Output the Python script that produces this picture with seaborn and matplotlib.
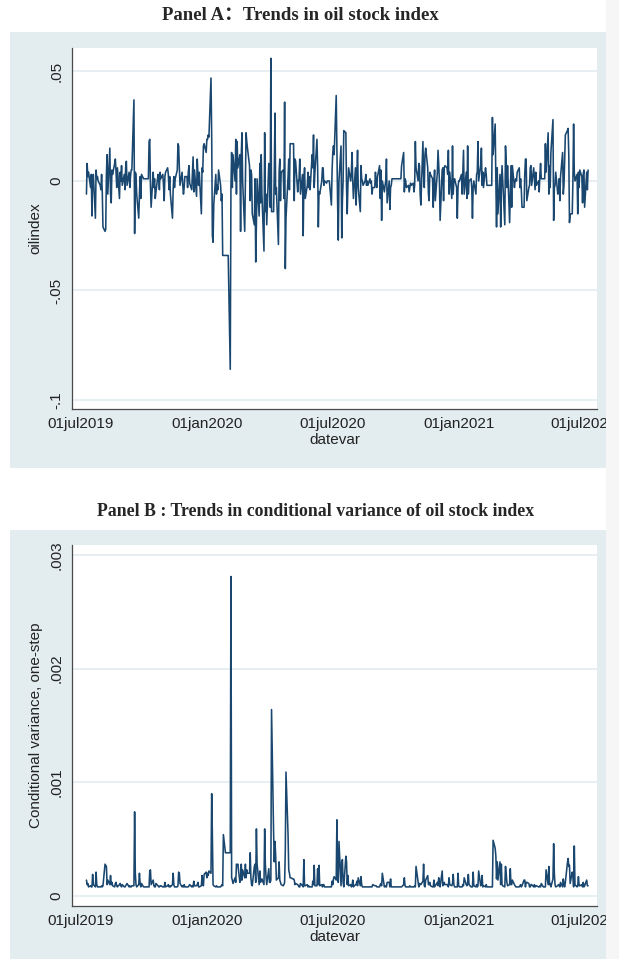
import numpy as np
import pandas as pd
import matplotlib
matplotlib.use("Agg")
import matplotlib.pyplot as plt
from matplotlib.patches import Rectangle
import seaborn as sns

# ---------------- data (business days starting at start_date) ----------------
start_date = "2019-07-09"

oilindex = [
    -.006, .008, .002, .004, -.003, .003, -.016, .002, .003, -.017, .005, .001, .002, .000, -.002, -.004, .003,  # Jul19
    -.005, -.021, -.023, -.022, .003, .012, -.006, .015, -.006, -.010, .005, .003, .008, .010, .004, -.003, .006, -.008, .004, .000, .007, -.002,  # Aug19
    .003, -.004, .006, .009, -.002, .004, -.003, .002, .005, .005, .037, -.024, .004, .003, -.006, -.017, -.006, .002, -.008, .003, .001,  # Sep19
    .001, .001, .001, .001, .001, .018, .019, -.002, -.012, .004, -.003, .001, -.008, -.005, .003, .002, -.004, .004, .001, .003, -.002, -.009, .002,  # Oct19
    .004, .006, .003, -.004, .002, -.006, -.017, -.004, .002, -.003, .001, .005, .017, .016, .006, -.002, .004, -.002, -.006, -.003, .002,  # Nov19
    .002, -.003, .004, .007, -.001, -.004, .003, .011, -.005, .005, -.007, .010, .003, -.002, .004, -.015, .006, .004, .016, .017, .013, .019,  # Dec19
    .019, .021, .020, .047, .021, -.025, -.028, -.011, .003, -.006, -.002, -.004, .005, -.002, -.009, -.006, -.034, -.034, -.034, -.034, -.034, -.034, -.034,  # Jan20
    -.086, -.003, .013, -.003, .012, .000, .019, -.006, .018, .006, .012, -.023, .012, .022, .000, -.023, -.002, .022, .018, .015,  # Feb20
    .007, -.009, .005, .003, -.015, -.020, .001, -.037, -.020, .001, -.016, .008, -.010, .012, -.006, -.032, .022, -.014, -.006, -.020, .008, .003,  # Mar20
    -.012, .056, -.014, -.014, .004, .031, -.006, -.003, -.029, .004, .010, -.009, .004, .005, -.008, .036, -.040, -.017, .002, .010, -.004, .017,  # Apr20
    .017, .017, .017, -.009, .010, .009, -.005, .000, .001, .010, -.006, .003, -.025, .000, .006, -.008, -.002, .004, -.003, .002, -.004,  # May20
    .012, .006, .021, -.003, .004, .019, .006, -.021, -.005, -.006, .000, .006, .006, -.002, .000, -.001, .000, .000, .000, .000, -.011, .005,  # Jun20
    .013, .016, .012, .039, .013, -.010, -.027, .000, .016, -.026, -.009, .000, .023, .022, -.003, -.015, -.002, .006, .000, .004, .013, .000, -.008,  # Jul20
    .006, -.011, .004, .014, -.003, -.014, .007, .001, .000, -.002, .000, .003, -.002, .000, -.002, .001, -.001, .000, -.006, -.003, -.003,  # Aug20
    .004, -.001, -.003, .002, .007, -.008, .005, -.018, .000, -.005, -.002, .000, .010, -.010, .000, -.013, -.003, -.002, .001, .001, .001, .001,  # Sep20
    .001, .001, .001, .001, .001, .001, .007, .013, -.005, .001, .000, -.003, -.002, -.005, -.003, -.001, -.002, -.001, -.005, -.002, .018, .006,  # Oct20
    .000, .008, .007, -.006, -.011, .018, .003, -.003, .012, .015, .006, -.006, -.009, .004, .003, .001, -.012, .000, .005, -.009, .004,  # Nov20
    .014, .007, .000, -.018, .005, .006, -.009, .006, .007, .006, .003, .014, -.006, .004, -.008, .016, -.006, .000, .001, -.003, -.017, -.003, .000,  # Dec20
    .000, .003, -.006, .004, .014, -.006, .004, -.008, .016, -.006, .000, .001, -.003, -.017, -.003, .000, -.006, .003, .004, .018, .000,  # Jan21
    .007, .015, -.002, .004, -.003, .006, .003, -.002, -.002, -.002, -.002, -.002, -.002, .029, .012, .026, .000, -.021, .006, -.015,  # Feb21
    .003, -.021, -.003, .007, .000, -.020, .016, .009, -.003, .007, -.019, -.005, .007, -.012, .007, -.003, .000, .001, .000, .004, .006, -.003, .001,  # Mar21
    -.004, -.012, -.012, .003, .010, .010, -.009, -.003, -.002, .006, .007, -.002, .006, .001, -.004, .004, -.002, .000, -.005, .003, .008, .001,  # Apr21
    .001, .001, .001, .017, .004, .022, -.006, .007, -.003, .013, .028, -.018, -.003, -.002, .004, -.006, -.005, .001, -.009, .002, .013,  # May21
    -.006, -.002, .010, .021, .023, .024, .012, -.019, -.015, -.015, .000, .026, .004, .000, .003, -.015, .004, -.003, .005, .002, -.010, .003,  # Jun21
    .005, -.012, .004, -.004, .005,  # Jul21
]

condvar = [
    14e-5, 10e-5, 11e-5, 8e-5, 9e-5, 8e-5, 8e-5, 19e-5, 10e-5, 8e-5, 21e-5, 10e-5, 8e-5, 8e-5, 8e-5, 8e-5, 9e-5,  # Jul19
    8e-5, 9e-5, 28e-5, 27e-5, 26e-5, 10e-5, 14e-5, 10e-5, 18e-5, 10e-5, 12e-5, 9e-5, 8e-5, 11e-5, 12e-5, 9e-5, 8e-5, 10e-5, 11e-5, 9e-5, 8e-5, 10e-5,  # Aug19
    8e-5, 8e-5, 9e-5, 10e-5, 11e-5, 8e-5, 9e-5, 8e-5, 8e-5, 9e-5, 9e-5, 74e-5, 20e-5, 10e-5, 8e-5, 10e-5, 20e-5, 11e-5, 8e-5, 11e-5, 8e-5,  # Sep19
    8e-5, 8e-5, 8e-5, 8e-5, 8e-5, 8e-5, 22e-5, 23e-5, 10e-5, 14e-5, 9e-5, 8e-5, 8e-5, 11e-5, 9e-5, 8e-5, 8e-5, 9e-5, 9e-5, 8e-5, 8e-5, 8e-5, 12e-5,  # Oct19
    8e-5, 9e-5, 10e-5, 8e-5, 9e-5, 8e-5, 10e-5, 20e-5, 10e-5, 8e-5, 8e-5, 8e-5, 9e-5, 21e-5, 20e-5, 11e-5, 8e-5, 9e-5, 8e-5, 10e-5, 8e-5,  # Nov19
    8e-5, 8e-5, 8e-5, 9e-5, 10e-5, 8e-5, 9e-5, 8e-5, 13e-5, 9e-5, 9e-5, 10e-5, 12e-5, 8e-5, 8e-5, 9e-5, 18e-5, 10e-5, 9e-5, 19e-5, 21e-5, 16e-5,  # Dec19
    20e-5, 18e-5, 22e-5, 20e-5, 90e-5, 54e-5, 10e-5, 9e-5, 8e-5, 9e-5, 8e-5, 8e-5, 8e-5, 8e-5, 9e-5, 10e-5, 9e-5, 54e-5, 38e-5, 38e-5, 38e-5, 38e-5, 38e-5,  # Jan20
    38e-5, 281e-5, 16e-5, 14e-5, 11e-5, 16e-5, 12e-5, 28e-5, 27e-5, 28e-5, 12e-5, 14e-5, 28e-5, 14e-5, 23e-5, 16e-5, 28e-5, 16e-5, 23e-5, 20e-5,  # Feb20
    20e-5, 38e-5, 16e-5, 10e-5, 9e-5, 26e-5, 28e-5, 12e-5, 59e-5, 28e-5, 10e-5, 22e-5, 12e-5, 14e-5, 15e-5, 10e-5, 59e-5, 28e-5, 17e-5, 10e-5, 24e-5, 12e-5,  # Mar20
    12e-5, 14e-5, 164e-5, 55e-5, 30e-5, 48e-5, 35e-5, 14e-5, 16e-5, 30e-5, 14e-5, 12e-5, 10e-5, 9e-5, 10e-5, 12e-5, 40e-5, 109e-5, 54e-5, 23e-5, 20e-5, 16e-5,  # Apr20
    16e-5, 15e-5, 15e-5, 14e-5, 10e-5, 11e-5, 10e-5, 9e-5, 8e-5, 8e-5, 11e-5, 9e-5, 8e-5, 32e-5, 9e-5, 9e-5, 10e-5, 8e-5, 9e-5, 8e-5, 8e-5,  # May20
    8e-5, 13e-5, 10e-5, 27e-5, 9e-5, 9e-5, 24e-5, 10e-5, 27e-5, 9e-5, 10e-5, 8e-5, 10e-5, 10e-5, 8e-5, 8e-5, 8e-5, 8e-5, 8e-5, 8e-5, 8e-5, 13e-5,  # Jun20
    10e-5, 15e-5, 17e-5, 14e-5, 67e-5, 15e-5, 12e-5, 48e-5, 9e-5, 30e-5, 32e-5, 12e-5, 8e-5, 35e-5, 30e-5, 10e-5, 18e-5, 9e-5, 10e-5, 8e-5, 9e-5, 14e-5, 8e-5,  # Jul20
    10e-5, 10e-5, 13e-5, 9e-5, 16e-5, 9e-5, 17e-5, 10e-5, 8e-5, 8e-5, 8e-5, 8e-5, 8e-5, 8e-5, 8e-5, 8e-5, 8e-5, 8e-5, 8e-5, 10e-5, 9e-5,  # Aug20
    9e-5, 9e-5, 8e-5, 8e-5, 8e-5, 10e-5, 11e-5, 9e-5, 20e-5, 8e-5, 9e-5, 8e-5, 8e-5, 12e-5, 12e-5, 8e-5, 15e-5, 8e-5, 8e-5, 8e-5, 8e-5, 8e-5,  # Sep20
    8e-5, 8e-5, 8e-5, 8e-5, 8e-5, 8e-5, 8e-5, 10e-5, 16e-5, 9e-5, 8e-5, 8e-5, 8e-5, 8e-5, 9e-5, 8e-5, 8e-5, 8e-5, 8e-5, 9e-5, 8e-5, 26e-5,  # Oct20
    12e-5, 8e-5, 11e-5, 10e-5, 10e-5, 13e-5, 28e-5, 9e-5, 8e-5, 14e-5, 18e-5, 10e-5, 10e-5, 12e-5, 9e-5, 8e-5, 8e-5, 14e-5, 8e-5, 9e-5, 12e-5,  # Nov20
    9e-5, 16e-5, 10e-5, 8e-5, 22e-5, 9e-5, 10e-5, 12e-5, 10e-5, 10e-5, 10e-5, 8e-5, 16e-5, 10e-5, 9e-5, 11e-5, 19e-5, 10e-5, 8e-5, 8e-5, 8e-5, 20e-5, 9e-5,  # Dec20
    8e-5, 8e-5, 8e-5, 10e-5, 9e-5, 16e-5, 10e-5, 9e-5, 11e-5, 19e-5, 10e-5, 8e-5, 8e-5, 8e-5, 21e-5, 9e-5, 8e-5, 10e-5, 8e-5, 9e-5, 22e-5,  # Jan21
    9e-5, 10e-5, 18e-5, 8e-5, 9e-5, 8e-5, 10e-5, 8e-5, 8e-5, 8e-5, 8e-5, 8e-5, 8e-5, 8e-5, 49e-5, 42e-5, 35e-5, 15e-5, 30e-5, 14e-5,  # Feb21
    30e-5, 10e-5, 28e-5, 10e-5, 9e-5, 8e-5, 26e-5, 20e-5, 12e-5, 9e-5, 10e-5, 24e-5, 10e-5, 10e-5, 14e-5, 10e-5, 9e-5, 8e-5, 8e-5, 8e-5, 8e-5, 9e-5, 10e-5,  # Mar21
    8e-5, 9e-5, 14e-5, 14e-5, 8e-5, 12e-5, 12e-5, 11e-5, 8e-5, 8e-5, 10e-5, 10e-5, 8e-5, 10e-5, 8e-5, 9e-5, 9e-5, 8e-5, 8e-5, 9e-5, 8e-5, 11e-5,  # Apr21
    8e-5, 8e-5, 8e-5, 8e-5, 23e-5, 10e-5, 26e-5, 10e-5, 11e-5, 8e-5, 15e-5, 46e-5, 20e-5, 10e-5, 8e-5, 9e-5, 10e-5, 10e-5, 8e-5, 12e-5, 8e-5,  # May21
    15e-5, 10e-5, 8e-5, 12e-5, 29e-5, 33e-5, 26e-5, 27e-5, 11e-5, 21e-5, 18e-5, 8e-5, 44e-5, 10e-5, 8e-5, 9e-5, 17e-5, 9e-5, 9e-5, 10e-5, 8e-5, 12e-5,  # Jun21
    8e-5, 9e-5, 14e-5, 9e-5, 9e-5,  # Jul21
]

xtick_dates = ["2019-07-01", "2020-01-01", "2020-07-01", "2021-01-01", "2021-07-01"]
xtick_labels = ["01jul2019", "01jan2020", "01jul2020", "01jan2021", "01jul2021"]
yticks_a = [-.1, -.05, 0, .05]
ytick_labels_a = ["-.1", "-.05", "0", ".05"]
yticks_b = [0, .001, .002, .003]
ytick_labels_b = ["0", ".001", ".002", ".003"]

title_a = "Panel A\uff1aTrends in oil stock index"
title_b = "Panel B : Trends in conditional variance of oil stock index"

df_a = pd.DataFrame({"datevar": pd.bdate_range(start_date, periods=len(oilindex)),
                     "oilindex": oilindex})
df_b = pd.DataFrame({"datevar": pd.bdate_range(start_date, periods=len(condvar)),
                     "condvar": condvar})

# ---------------- style ----------------
sns.set_style("white")
plt.rcParams["font.family"] = ["Liberation Sans", "DejaVu Sans"]

W, H = 619, 959
BG = "#e3ecef"
LINE = "#1a476f"
GRID = "#e6eef1"
AX = "#4a4a4a"

fig = plt.figure(figsize=(W / 100, H / 100), dpi=100)
fig.patch.set_facecolor("white")


def px_rect(x0, y0, x1, y1, color, z):
    fig.patches.append(Rectangle((x0 / W, 1 - y1 / H), (x1 - x0) / W, (y1 - y0) / H,
                                 transform=fig.transFigure, facecolor=color,
                                 edgecolor="none", zorder=z))


px_rect(10, 32, 606, 468, BG, -5)
px_rect(10, 530, 606, 959, BG, -5)
px_rect(606, 0, 619, 959, "#f6f6f6", 20)


def make_ax(top, bottom):
    return fig.add_axes([72 / W, 1 - bottom / H, (597 - 72) / W, (bottom - top) / H])


xlim = (pd.Timestamp("2019-06-18"), pd.Timestamp("2021-07-20"))
serif = ["Liberation Serif", "Noto Sans CJK SC", "DejaVu Serif"]


def style_ax(ax, yticks, ylabels, ylim, ylabel):
    ax.set_facecolor("white")
    ax.set_xlim(*xlim)
    ax.set_ylim(*ylim)
    ax.set_yticks(yticks)
    ax.set_yticklabels(ylabels, rotation=90, va="center", fontsize=11, color="#222222")
    ax.set_xticks(pd.to_datetime(xtick_dates))
    ax.set_xticklabels(xtick_labels, fontsize=11, color="#222222")
    ax.grid(False)
    for y in yticks:
        ax.axhline(y, color=GRID, lw=1.3, zorder=0)
    for s in ["top", "right"]:
        ax.spines[s].set_visible(False)
    for s in ["left", "bottom"]:
        ax.spines[s].set_color(AX)
        ax.spines[s].set_linewidth(0.9)
    ax.tick_params(axis="both", direction="out", length=4, width=0.8, color=AX, pad=2)
    ax.set_xlabel("datevar", fontsize=11, labelpad=1, color="#222222")
    ax.set_ylabel(ylabel, fontsize=11, labelpad=5, color="#222222")


ax_a = make_ax(48, 409)
sns.lineplot(data=df_a, x="datevar", y="oilindex", ax=ax_a, color=LINE,
             linewidth=1.15, estimator=None, zorder=3)
style_ax(ax_a, yticks_a, ytick_labels_a, (-0.1041, 0.0607), "oilindex")

ax_b = make_ax(545, 906)
sns.lineplot(data=df_b, x="datevar", y="condvar", ax=ax_b, color=LINE,
             linewidth=1.15, estimator=None, zorder=3)
style_ax(ax_b, yticks_b, ytick_labels_b, (-0.000088, 0.003087),
         "Conditional variance, one-step")

fig.text(300 / W, 1 - 16 / H, title_a, ha="center", va="center",
         fontsize=13.5, fontweight="bold", family=serif)
fig.text(316 / W, 1 - 512 / H, title_b, ha="center", va="center",
         fontsize=12.8, fontweight="bold", family=serif)

fig.savefig("out.png", dpi=100, facecolor="white")
